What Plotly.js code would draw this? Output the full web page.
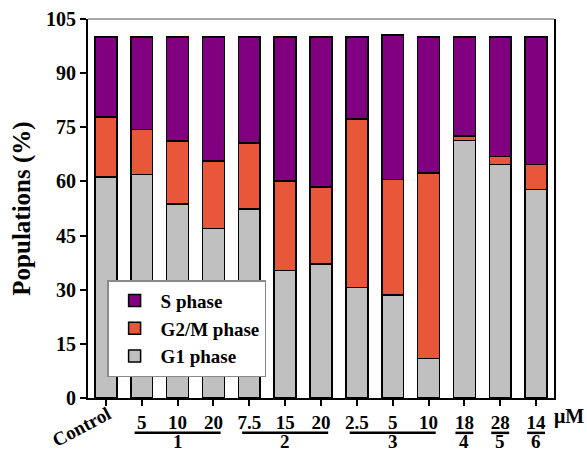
<!DOCTYPE html>
<html>
<head>
<meta charset="utf-8">
<script src="https://cdn.plot.ly/plotly-3.0.1.min.js"></script>
<style>html,body{margin:0;padding:0;background:#fff;}#chart{width:587px;height:452px;}</style>
</head>
<body>
<div id="chart"></div>
<script>
// ---- data ----
const positions = [0,1,2,3,4,5,6,7,8,9,10,11,12];
const doseLabels = ['Control','5','10','20','7.5','15','20','2.5','5','10','18','28','14'];
const g1Phase  = [61.2,61.9,53.8,47.0,52.3,35.3,37.1,30.6,28.6,11.0,71.4,64.7,57.8];
const g2mPhase = [16.7,12.5,17.4,18.6,18.3,24.8,21.3,46.7,32.0,51.3,1.2,2.2,6.9];
const sPhase   = [22.1,25.6,28.8,34.4,29.4,39.9,41.6,22.7,40.0,37.7,27.4,33.1,35.3];
const groupLabels = ['1','2','3','4','5','6'];
const groupFirst  = [1,4,7,10,11,12];
const groupLast   = [3,6,9,10,11,12];
const yTicks = [0,15,30,45,60,75,90,105];

const FONT = 'Liberation Serif, Times New Roman, serif';
const lineStyle = {color:'#000', width:1.5};

const traces = [
  {type:'bar', name:'G1 phase', x:positions, y:g1Phase, marker:{color:'#C0C0C0', line:lineStyle}},
  {type:'bar', name:'G2/M phase', x:positions, y:g2mPhase, marker:{color:'#E8573A', line:lineStyle}},
  {type:'bar', name:'S phase', x:positions, y:sPhase, marker:{color:'#800080', line:lineStyle}}
];

const annotations = [];
const shapes = [];
// Control label (rotated)
annotations.push({xref:'x', yref:'paper', x:0, y:-0.075, xshift:-24, text:'<b>'+doseLabels[0]+'</b>',
  showarrow:false, textangle:-28, font:{family:FONT, size:19, color:'#000'}, xanchor:'center', yanchor:'middle'});
// group lines and labels
groupLabels.forEach((g,i)=>{
  const a = groupFirst[i], b = groupLast[i];
  const pad = (a===b) ? 0.25 : 0.2;
  shapes.push({type:'line', xref:'x', yref:'paper', x0:a-pad, x1:b+pad, y0:-0.092, y1:-0.092,
    line:{color:'#000', width:2.5}});
  annotations.push({xref:'x', yref:'paper', x:(a+b)/2, y:-0.114, text:'<b>'+g+'</b>', showarrow:false,
    font:{family:FONT, size:19, color:'#000'}, xanchor:'center', yanchor:'middle'});
});
annotations.push({xref:'paper', yref:'paper', x:1, y:-0.05, xshift:-2, text:'<b>μM</b>', showarrow:false,
  font:{family:FONT, size:20, color:'#000'}, xanchor:'left', yanchor:'middle'});
// top frame line
shapes.push({type:'line', xref:'paper', yref:'paper', x0:0, x1:1, y0:1, y1:1, line:{color:'#8a8a8a', width:1.5}});

const layout = {
  width:587, height:452,
  margin:{l:88, r:33, t:19, b:54},
  paper_bgcolor:'#fff', plot_bgcolor:'#fff',
  barmode:'stack', bargap:0.39,
  showlegend:true,
  legend:{x:0.041, y:0.055, xanchor:'left', yanchor:'bottom', traceorder:'reversed',
    bgcolor:'#fff', bordercolor:'#8a8a8a', borderwidth:1.5, itemwidth:42, entrywidth:146,
    font:{family:FONT, size:19, color:'#000', weight:'bold'}},
  xaxis:{range:[-0.5,12.5], tickmode:'array', tickvals:positions,
    ticktext:doseLabels.map((t,i)=> i===0 ? '' : '<b>'+t+'</b>'),
    ticks:'outside', ticklen:6, tickwidth:2, tickcolor:'#000',
    showline:true, linecolor:'#000', linewidth:2, showgrid:false, zeroline:false,
    tickfont:{family:FONT, size:19, color:'#000'}, fixedrange:true},
  yaxis:{range:[0,105], tickmode:'array', tickvals:yTicks, ticktext:yTicks.map(v=>'<b>'+v+'</b>'),
    ticks:'outside', ticklen:6, tickwidth:2, tickcolor:'#000',
    showline:true, mirror:true, linecolor:'#000', linewidth:2, showgrid:false, zeroline:false,
    tickfont:{family:FONT, size:20, color:'#000'},
    title:{text:'<b>Populations (%)</b>', font:{family:FONT, size:25, color:'#000'}, standoff:8}},
  shapes:shapes,
  annotations:annotations
};

Plotly.newPlot('chart', traces, layout, {displayModeBar:false, staticPlot:true});
</script>
</body>
</html>
